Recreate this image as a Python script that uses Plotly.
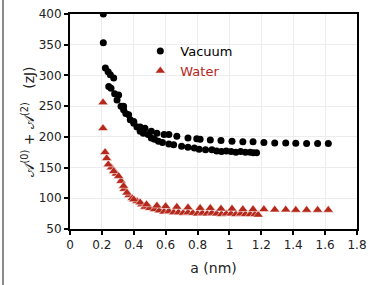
import plotly.graph_objects as go

# Vacuum, two data sets (upper sparse, lower dense)
vac_a_x = [0.209, 0.222, 0.239, 0.253, 0.274, 0.305, 0.336, 0.368, 0.40, 0.44, 0.47, 0.51, 0.545, 0.59, 0.62, 0.67, 0.74, 0.795,
           0.816, 0.88, 0.947, 1.016, 1.084, 1.148, 1.216, 1.284, 1.353, 1.416, 1.484, 1.553, 1.62]
vac_a_y = [400, 312, 306, 301, 296, 268, 250, 236, 225, 216, 214, 209, 206, 204, 204, 201, 198, 197,
           196, 195, 194, 193, 192, 192, 191, 190, 190, 189.5, 189, 189, 189]
vac_b_x = [0.209, 0.243, 0.257, 0.28, 0.295, 0.32, 0.336, 0.35, 0.378, 0.40, 0.42, 0.44, 0.46, 0.49, 0.51, 0.53, 0.555, 0.58,
           0.62, 0.65, 0.70, 0.74, 0.78, 0.81, 0.85, 0.89, 0.92, 0.95, 0.98, 1.01, 1.04, 1.07, 1.10, 1.13, 1.15, 1.17]
vac_b_y = [353, 282, 279, 270, 260, 250, 244, 238, 228, 222, 216, 209, 206, 204, 198, 196, 193, 191,
           188.5, 187, 184.6, 183, 182, 180, 179, 179, 177, 176, 177, 176, 175, 176, 175, 175, 174, 174]

# Water, two data sets
wat_a_x = [0.207, 0.22, 0.24, 0.274, 0.305, 0.336, 0.357, 0.40, 0.44, 0.48, 0.545, 0.60, 0.67, 0.74,
           0.816, 0.88, 0.947, 1.016, 1.084, 1.148, 1.216, 1.284, 1.353, 1.416, 1.484, 1.553, 1.62]
wat_a_y = [256, 175, 155, 144, 136, 120, 109, 98, 93, 90, 88, 87, 86, 85,
           84, 84, 83, 83, 82, 82, 82, 81.5, 81.5, 81, 81, 81, 81]
wat_b_x = [0.207, 0.23, 0.26, 0.29, 0.32, 0.34, 0.37, 0.39, 0.42, 0.45, 0.47, 0.50, 0.53, 0.56, 0.59, 0.62, 0.65, 0.68,
           0.71, 0.74, 0.77, 0.80, 0.83, 0.86, 0.89, 0.92, 0.95, 0.98, 1.01, 1.04, 1.07, 1.10, 1.13, 1.16, 1.18]
wat_b_y = [214, 165, 150, 140, 128, 115, 105, 100, 95, 90, 86, 84, 82, 80, 78, 79, 77, 77,
           76, 77, 76, 75, 76, 75, 76, 75, 74, 75, 75, 74, 75, 74, 74, 74, 73]

x_ticks = [0, 0.2, 0.4, 0.6, 0.8, 1, 1.2, 1.4, 1.6, 1.8]
x_labels = ["0", "0.2", "0.4", "0.6", "0.8", "1", "1.2", "1.4", "1.6", "1.8"]
y_ticks = [50, 100, 150, 200, 250, 300, 350, 400]

RED = "#b5291c"
FONT = "DejaVu Sans"

fig = go.Figure()
fig.add_trace(go.Scatter(x=vac_b_x, y=vac_b_y, mode="markers", legendgroup="v", showlegend=False,
                         marker=dict(symbol="circle", size=7, color="black")))
fig.add_trace(go.Scatter(x=vac_a_x, y=vac_a_y, mode="markers", legendgroup="v", name="Vacuum",
                         marker=dict(symbol="circle", size=7, color="black")))
fig.add_trace(go.Scatter(x=wat_b_x, y=wat_b_y, mode="markers", legendgroup="w", showlegend=False,
                         marker=dict(symbol="triangle-up", size=9, color=RED, line=dict(color="white", width=0.5))))
fig.add_trace(go.Scatter(x=wat_a_x, y=wat_a_y, mode="markers", legendgroup="w",
                         name=f"<span style='color:{RED}'>Water</span>",
                         marker=dict(symbol="triangle-up", size=9, color=RED, line=dict(color="white", width=0.5))))

fig.update_layout(
    width=382, height=285,
    margin=dict(l=70, r=25, t=14, b=56, autoexpand=False),
    paper_bgcolor="white", plot_bgcolor="white",
    font=dict(family=FONT, size=12, color="#222"),
    showlegend=True,
    legend=dict(x=0.245, y=0.898, xanchor="left", yanchor="top", bgcolor="rgba(0,0,0,0)",
                font=dict(size=13, color="black"), tracegroupgap=0, itemwidth=30,
                traceorder="normal"),
    xaxis=dict(range=[0, 1.8], tickvals=x_ticks, ticktext=x_labels, showgrid=True, gridcolor="#ececec",
               gridwidth=1, zeroline=False, showline=True, linecolor="black", linewidth=2, mirror=True,
               ticks="outside", ticklen=4, tickwidth=2, tickcolor="black", automargin=True,
               title=dict(text="a (nm)", font=dict(size=14), standoff=12)),
    yaxis=dict(range=[50, 400], tickvals=y_ticks, showgrid=True, gridcolor="#ececec", gridwidth=1,
               zeroline=False, showline=True, linecolor="black", linewidth=2, mirror=True,
               ticks="outside", ticklen=4, tickwidth=2, tickcolor="black", automargin=True,
               title=dict(text="𝒜<sup>(0)</sup> + 𝒜<sup>(2)</sup>   (zJ)", font=dict(size=14), standoff=1)),
    shapes=[dict(type="rect", xref="paper", yref="paper", x0=-0.237, x1=-0.230, y0=-0.26, y1=1.07,
                 layer="above", fillcolor="#8a8a8a", line=dict(width=0))],
)

fig.write_html("out.html", config={"displayModeBar": False},
               post_script="document.body.style.margin='0';")
